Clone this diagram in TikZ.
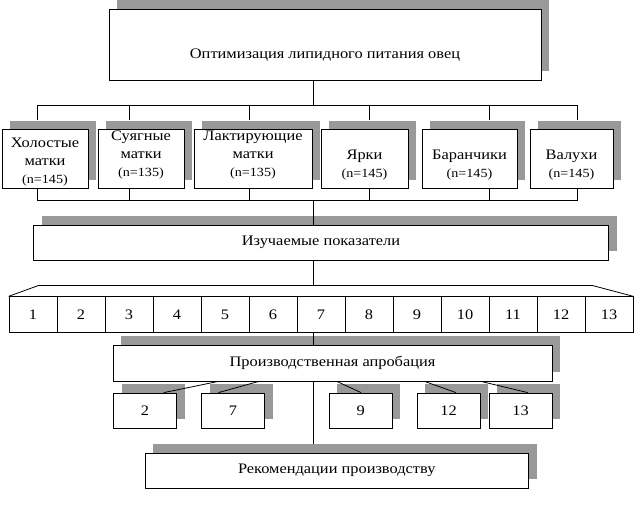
\documentclass[tikz,border=0pt]{standalone}
\usepackage{fontspec}
\setmainfont{Liberation Serif}[FakeStretch=1.13]
\usetikzlibrary{shadows,calc}
\definecolor{shadowgray}{RGB}{153,153,153}
\newcommand{\txt}[2]{\raisebox{#1}[0pt][0pt]{\begin{tabular}{@{}c@{}}#2\end{tabular}}}
\newcommand{\cnt}[1]{{\fontsize{12.5}{18}\selectfont(n=#1)}}

\begin{document}
\begin{tikzpicture}[x=1pt,y=-1pt,
    box/.style={draw,line width=0.8pt,fill=white,inner sep=0pt,
      font=\fontsize{14.5}{18}\selectfont,
      drop shadow={shadow xshift=8pt,shadow yshift=9pt,fill=shadowgray,opacity=1}},
    cell/.style={draw,line width=0.8pt,fill=white,inner sep=0pt,
      minimum width=48pt,minimum height=35.5pt,font=\fontsize{14.5}{17}\selectfont},
    link/.style={line width=0.8pt}]
  \useasboundingbox (0,0) rectangle (634,514);
  % goal
  \node[box,minimum width=432pt,minimum height=71pt] (goal) at (325,44.5)
    {\txt{-14pt}{Оптимизация липидного питания овец}};
  % groups of sheep
  \node[box,minimum width=86pt,minimum height=59pt] (g1) at (45,159)
    {\txt{-6.5pt}{Холостые\\матки\\\cnt{145}}};
  \node[box,minimum width=86pt,minimum height=59pt] (g2) at (141,159)
    {\txt{1pt}{Суягные\\матки\\\cnt{135}}};
  \node[box,minimum width=118pt,minimum height=59pt] (g3) at (253,159)
    {\txt{1pt}{Лактирующие\\матки\\\cnt{135}}};
  \node[box,minimum width=87pt,minimum height=59pt] (g4) at (364.5,159)
    {\txt{-9.5pt}{Ярки\\\cnt{145}}};
  \node[box,minimum width=95pt,minimum height=59pt] (g5) at (469.5,159)
    {\txt{-9.5pt}{Баранчики\\\cnt{145}}};
  \node[box,minimum width=83pt,minimum height=59pt] (g6) at (571.5,159)
    {\txt{-9.5pt}{Валухи\\\cnt{145}}};
  % indices
  \node[box,minimum width=575pt,minimum height=35pt] (study) at (321,242.5)
    {Изучаемые показатели};
  \foreach \k in {1,...,13}
    \node[cell] (c\k) at ({9+48*(\k-0.5)},314.5) {\k};
  % trial
  \node[box,minimum width=439pt,minimum height=36pt] (trial) at (332.5,363)
    {Производственная апробация};
  \foreach \n/\x in {2/145,7/233,9/360.7,12/448.5,13/520.5}
    \node[box,minimum width=63pt,minimum height=35pt] (s\n) at (\x,410.5) {\n};
  \node[box,minimum width=383.5pt,minimum height=35pt] (rec) at (336.75,470.5)
    {\txt{-2.5pt}{Рекомендации производству}};
  % connectors
  \coordinate (bus1) at (313.4,105);
  \coordinate (bus2) at (313.4,200.7);
  \coordinate (bus3) at (313.4,285.5);
  \draw[link] (goal.south -| bus1) -- (bus1);
  \draw[link] (bus1 -| 37.6,0) -- (bus1 -| 577,0);
  \draw[link] (bus2 -| 37.6,0) -- (bus2 -| 577,0);
  \foreach \x/\g in {37.6/g1,129/g2,249.5/g3,369/g4,489/g5,577/g6}{
    \draw[link] (bus1 -| \x,0) -- ($(\g.north -| \x,0)+(0,-9)$);
    \draw[link] (\g.south -| \x,0) -- (bus2 -| \x,0);
  }
  \draw[link] (bus2) -- (study.north -| bus2);
  \draw[link] (study.south -| bus3) -- (bus3);
  \draw[link] (c1.north west) -- (bus3 -| 38.4,0) -- (bus3 -| 592.4,0) -- (c13.north east);
  \draw[link] (c7.south -| bus3) -- (trial.north -| bus3);
  \draw[link] (trial.south -| bus3) -- ($(rec.north -| bus3)+(0,-9)$);
  \foreach \n/\a/\b in {2/218.4/163.8,7/258.8/218.4,9/336.8/361,12/424.6/456,13/481/527.7}
    \draw[link] (trial.south -| \a,0) -- (s\n.north -| \b,0);
\end{tikzpicture}
\end{document}
